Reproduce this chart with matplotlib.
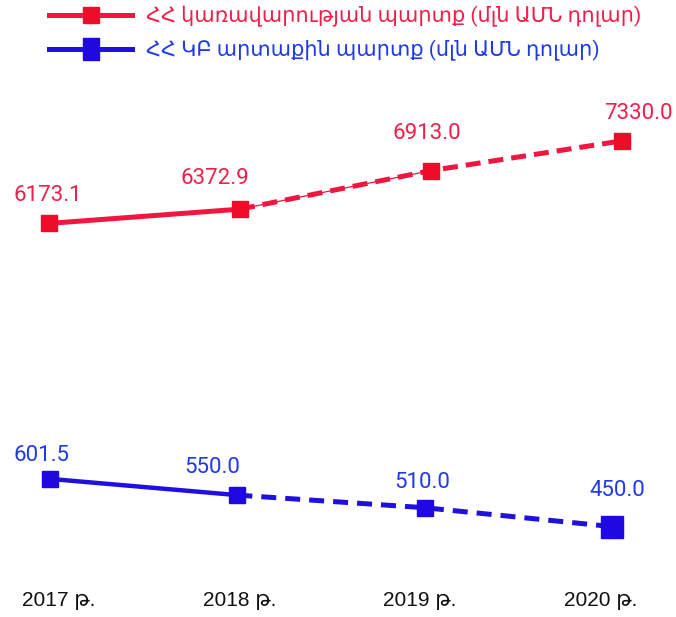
import matplotlib
matplotlib.use("Agg")
import matplotlib.pyplot as plt
from matplotlib.lines import Line2D

years = ["2017 թ.", "2018 թ.", "2019 թ.", "2020 թ."]
gov_debt = [6173.1, 6372.9, 6913.0, 7330.0]
cb_debt = [601.5, 550.0, 510.0, 450.0]
gov_label = "ՀՀ կառավարության պարտք (մլն ԱՄՆ դոլար)"
cb_label = "ՀՀ ԿԲ արտաքին պարտք (մլն ԱՄՆ դոլար)"

RED = "#F0163F"
RED_TXT = "#F01E48"
BLUE = "#2010E0"
BLUE_TXT = "#1F3AEA"
FONT = ["Roboto", "DejaVu Sans"]

plt.rcParams["font.family"] = FONT

fig = plt.figure(figsize=(6.76, 6.17), dpi=100)
ax_r = fig.add_axes([0, 0, 1, 1])
ax_b = fig.add_axes([0, 0, 1, 1])
ax_t = fig.add_axes([0, 0, 1, 1])
for a in (ax_r, ax_b, ax_t):
    a.set_axis_off()
    a.patch.set_alpha(0)

x = list(range(len(years)))

# red series
ax_r.set_xlim(-0.256, 3.282)
ax_r.set_ylim(661, 9302)
ax_r.plot(x[:2], gov_debt[:2], color=RED, lw=3.6, solid_capstyle="butt")
ax_r.plot(x[1:3], gov_debt[1:3], color=RED, lw=0.9)
ax_r.plot(x[1:], gov_debt[1:], color=RED, lw=3.6, dashes=(3, 1.6))
ax_r.plot(x, gov_debt, ls="none", marker="s", ms=11, color="#EE0C28")
red_off = [(-1, 20), (-18, 22), (-3, 27), (12, 20)]
for xi, v, off in zip(x, gov_debt, red_off):
    ax_r.annotate(f"{v:.1f}", (xi, v), xytext=off, textcoords="offset points",
                  ha="center", va="center", color=RED_TXT, fontsize=16)

# blue series
ax_b.set_xlim(-0.267, 3.342)
ax_b.set_ylim(163, 2122)
ax_b.plot(x[:2], cb_debt[:2], color=BLUE, lw=3.2, solid_capstyle="butt")
ax_b.plot(x[1:], cb_debt[1:], color=BLUE, lw=3.6, dashes=(3, 1.8))
ax_b.plot(x[:3], cb_debt[:3], ls="none", marker="s", ms=11, color="#2008E0")
ax_b.plot(x[3:], cb_debt[3:], ls="none", marker="s", ms=15.5, color="#2008E0")
blue_off = [(-6, 17), (-18, 20), (-2, 18), (4, 26)]
for xi, v, off in zip(x, cb_debt, blue_off):
    ax_b.annotate(f"{v:.1f}", (xi, v), xytext=off, textcoords="offset points",
                  ha="center", va="center", color=BLUE_TXT, fontsize=16)

# year labels
ax_t.set_xlim(-0.327, 3.42)
ax_t.set_ylim(617, 0)
for xi, lab in zip(x, years):
    ax_t.text(xi, 601, lab, ha="center", va="center", fontsize=15, color="#111111",
              family=["Liberation Sans", "DejaVu Sans"])

tall = [(-0.74, -1), (0.74, -1), (0.74, 1), (-0.74, 1), (-0.74, -1)]
handles = [
    Line2D([], [], color=RED, lw=3.6, marker="s", ms=11.5, mfc="#EE0C28", mec="#EE0C28"),
    Line2D([], [], color=BLUE, lw=3.6, marker=tall, ms=16.5, mfc="#2008E0", mec="#2008E0"),
]
leg = fig.legend(handles, [gov_label, cb_label], loc="upper left",
                 bbox_to_anchor=(49 / 676, 0.9905), frameon=False, fontsize=15,
                 handlelength=4.0, handletextpad=0.65, labelspacing=0.6,
                 borderaxespad=0, borderpad=0)
leg.get_texts()[0].set_color(RED_TXT)
leg.get_texts()[1].set_color(BLUE_TXT)

fig.savefig("out.png", dpi=100)
